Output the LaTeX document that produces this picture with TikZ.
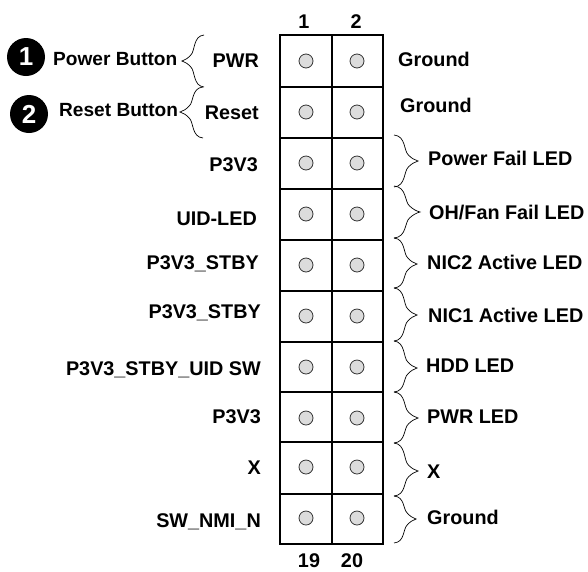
\documentclass[tikz,border=0pt]{standalone}
\usepackage{fontspec}
\setmainfont{Liberation Sans}
\usepackage{xcolor}
\usetikzlibrary{calc, positioning}
\definecolor{pinfill}{HTML}{DCDCDC}
\tikzset{
  lbl/.style={font=\fontsize{19.8}{22}\selectfont\bfseries, inner sep=0pt},
  btn/.style={lbl, font=\fontsize{19.1}{22}\selectfont\bfseries},
  pin/.style={circle, draw=black!80, fill=pinfill, line width=0.8pt, minimum size=14pt, inner sep=0pt},
  badge/.style={circle, fill=black, text=white, minimum size=38pt, inner sep=0pt, font=\fontsize{26}{28}\selectfont\bfseries},
  brc/.style={line width=0.7pt}
}
% curly bracket: top y, tip x, tip y, bottom y, open end x
\newcommand{\curly}[5]{%
  \draw[brc] (#5,#1) .. controls ({#5+0.5*(#2-#5)},{#1+1}) and ({#5+0.4*(#2-#5)},{#3-10}) .. ({#5+0.6*(#2-#5)},{#3-6})
    .. controls ({#5+0.72*(#2-#5)},{#3-3}) and ({#5+0.85*(#2-#5)},{#3-1}) .. (#2,#3)
    .. controls ({#5+0.85*(#2-#5)},{#3+1}) and ({#5+0.72*(#2-#5)},{#3+3}) .. ({#5+0.6*(#2-#5)},{#3+6})
    .. controls ({#5+0.4*(#2-#5)},{#3+10}) and ({#5+0.5*(#2-#5)},{#4-1}) .. (#5,#4);
}
\begin{document}
\begin{tikzpicture}[x=1pt, y=-1pt]
  \useasboundingbox (0,0) rectangle (588,571);

  % pin header
  \draw[line width=1.5pt] (280,35) rectangle (383,544);
  \draw[line width=1.5pt] (332,35) -- (332,544);
  \foreach \y in {87,138,189,240,291,342,392,442,494} {
    \draw[line width=1.5pt] (280,\y) -- (383,\y);
  }
  \foreach \y/\n in {61/1,112/2,163/3,214/4,265/5,316/6,367/7,418/8,467/9,518/10} {
    \node[pin] (pa\n) at (306,\y) {};
    \node[pin] (pb\n) at (357,\y) {};
  }

  % pin numbers
  \node[lbl, anchor=base] (n1) at (304,28) {1};
  \node[lbl, anchor=base] (n2) at (356,28) {2};
  \node[lbl, anchor=base] (n19) at (309,567) {19};
  \node[lbl, anchor=base] (n20) at (352,567) {20};

  % left labels
  \foreach \x/\y/\t/\n in {259/67/PWR/a,259/119/Reset/b,258/171/P3V3/c,257/225/UID-LED/d,259/269/P3V3\_STBY/e,261/318/P3V3\_STBY/f,261/375/P3V3\_STBY\_UID SW/g,261/423/P3V3/h,261/474/X/i,261/527/SW\_NMI\_N/j} {
    \node[lbl, anchor=base east] (l\n) at (\x,\y) {\t};
  }

  % right labels
  \foreach \x/\y/\t/\n in {398/66/Ground/a,400/112/Ground/b,428/165/Power Fail LED/c,429/219/{OH/Fan Fail LED}/d,427/269/NIC2 Active LED/e,428/322/NIC1 Active LED/f,426/372/HDD LED/g,427/423/PWR LED/h,427/478/X/i,427/524/Ground/j} {
    \node[lbl, anchor=base west] (r\n) at (\x,\y) {\t};
  }

  % buttons
  \node[badge] (b1) at (26,57) {1};
  \node[badge] (b2) at (29,114) {2};
  \node[btn, anchor=base west] (pb) at (53,65) {Power Button};
  \node[btn, anchor=base west] (rb) at (59,116) {Reset Button};

  % brackets
  \curly{35}{182}{61}{87}{204}
  \curly{87}{180}{112}{138}{203}
  \foreach \a/\x/\m/\b in {135/418/161/187,186/420/212/238,238/417/264/288,288/417/315/341,341/417/368/392,392/418/418/443,443/418/471/496,496/416/519/543} {
    \curly{\a}{\x}{\m}{\b}{394}
  }
\end{tikzpicture}
\end{document}
